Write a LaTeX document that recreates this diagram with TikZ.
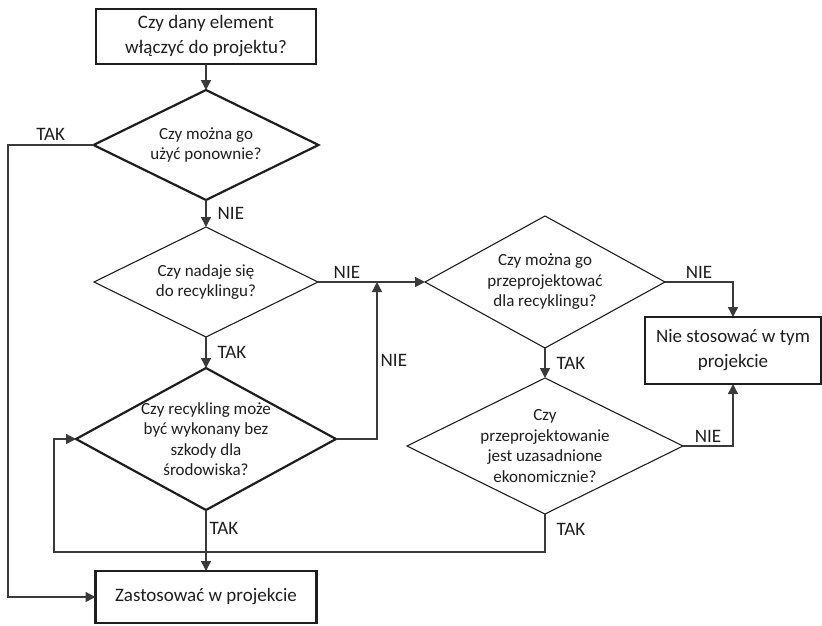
\documentclass[tikz,border=0pt]{standalone}
\usepackage{fontspec}
\setmainfont{Carlito}
\usetikzlibrary{arrows.meta,positioning,shapes.geometric}
\definecolor{Ink}{HTML}{1E1E1E}
\definecolor{Wire}{HTML}{3A3A3A}
\tikzset{
  box/.style={draw=Ink,line width=2.2pt,outer sep=0pt,align=center,text=Ink,
    font=\fontsize{19}{25}\selectfont},
  decision/.style={diamond,draw=Ink,line width=1.1pt,inner sep=0pt,outer sep=0pt},
  qtext/.style={align=center,text=Ink,font=\fontsize{17}{20.5}\selectfont},
  tag/.style={text=Ink,font=\fontsize{19}{22}\selectfont,inner sep=3pt},
  arrow/.style={-{Triangle[length=10pt,width=10pt]},draw=Wire,line width=1.4pt}
}

\begin{document}
\begin{tikzpicture}[x=1pt,y=1pt]
    \useasboundingbox (0,0) rectangle (822,-625);
    % main column
    \node[box,minimum width=220pt,minimum height=55pt] (start) at (206,-36.5)
      {Czy dany element\\włączyć do projektu?};
    \node[decision,line width=2.2pt,minimum width=225pt,minimum height=110pt,below=26pt of start,
      label={[qtext]center:{Czy można go\\użyć ponownie?}}] (q1) {};
    \node[decision,minimum width=224pt,minimum height=110pt,below=27pt of q1,
      label={[qtext]center:{Czy nadaje się\\do recyklingu?}}] (q2) {};
    \node[decision,line width=2.2pt,minimum width=260pt,minimum height=142pt,below=31pt of q2,
      label={[qtext]center:{Czy recykling może\\być wykonany bez\\szkody dla\\środowiska?}}] (q4) {};
    \node[box,minimum width=221pt,minimum height=52pt,below=61pt of q4] (done)
      {Zastosować w projekcie};
    % redesign column
    \node[decision,minimum width=240pt,minimum height=132pt,right=107pt of q2,
      label={[qtext]center:{Czy można go\\przeprojektować\\dla recyklingu?}}] (q3) {};
    \node[decision,minimum width=276pt,minimum height=136pt,below=30pt of q3,
      label={[qtext]center:{Czy\\przeprojektowanie\\jest uzasadnione\\ekonomicznie?}}] (q5) {};
    \node[box,minimum width=176pt,minimum height=67pt] (skip) at (733,-350.5)
      {Nie stosować w tym\\projekcie};
    % helper points for the side lines
    \coordinate (rail) at (8,-145);
    \coordinate (join) at (377,-282);
    \coordinate (loopR) at (545,-552);
    \coordinate (loopL) at (54,-552);

    \draw[arrow] (start)--(q1);
    \draw[arrow] (q1)--node[tag,right=8pt]{NIE}(q2);
    \draw[arrow] (q2)--node[tag,right=8pt]{TAK}(q4);
    \draw[arrow] (q4)--node[tag,right,pos=.3]{TAK}(done);
    \draw[arrow] (q1.west)--node[tag,above=1pt]{TAK}(rail)|-(done.west);
    \draw[arrow] (q2.east)--node[tag,above,pos=.27]{NIE}(q3.west);
    \draw[arrow] (q4.east)-|node[tag,right,pos=.75]{NIE}(join);
    \draw[arrow] (q3)--node[tag,right=8pt]{TAK}(q5);
    \draw[arrow] (q3.east)-|node[tag,above,pos=.25]{NIE}(skip.north);
    \draw[arrow] (q5.east)-|node[tag,above,pos=.25]{NIE}(skip.south);
    \draw[arrow] (q5.south)--node[tag,right=8pt,pos=.4]{TAK}(loopR)--(loopL)|-(q4.west);
  \end{tikzpicture}
\end{document}
